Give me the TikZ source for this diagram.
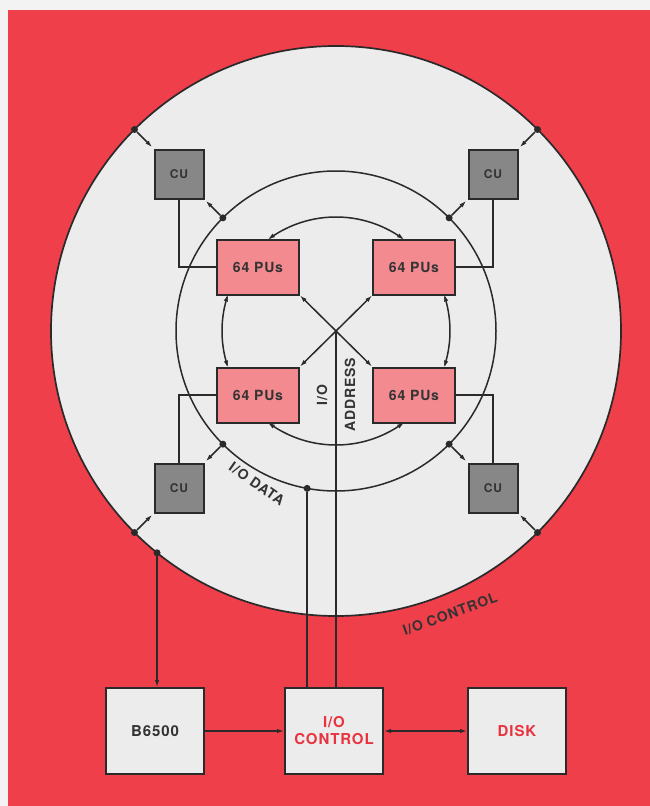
\documentclass[tikz,border=0pt]{standalone}
\usepackage{fontspec}
\setmainfont{TeX Gyre Heros}
\newfontfamily\lbl[LetterSpace=6]{TeX Gyre Heros}
\usetikzlibrary{arrows.meta,calc}
\definecolor{bgred}{HTML}{EF3F4B}
\definecolor{light}{HTML}{ECECEC}
\definecolor{pufill}{HTML}{F28A90}
\definecolor{cufill}{HTML}{878787}
\definecolor{lineclr}{HTML}{2A2A2A}
\definecolor{txtdark}{HTML}{333333}
\definecolor{txtred}{HTML}{E8323E}
\definecolor{paper}{HTML}{F3F3F3}
\begin{document}
\begin{tikzpicture}[x=1pt,y=-1pt,
  >={Latex[length=7pt,width=4.5pt]},
  lw/.style={line width=1.5pt, draw=lineclr},
  pubox/.style={draw=lineclr, line width=2pt, fill=pufill, minimum width=82pt, minimum height=55pt,
     inner sep=0pt, text=txtdark, font=\lbl\bfseries\fontsize{14}{16}\selectfont},
  cubox/.style={draw=lineclr, line width=2pt, fill=cufill, minimum size=49pt,
     inner sep=0pt, text=txtdark, font=\lbl\bfseries\fontsize{12}{14}\selectfont},
  iobox/.style={draw=lineclr, line width=2pt, fill=light, minimum width=98pt, minimum height=86pt,
     inner sep=0pt, align=center, font=\lbl\bfseries\fontsize{15}{17}\selectfont},
  dot/.style={circle, fill=lineclr, inner sep=0pt, minimum size=7pt},
  lbltext/.style={inner sep=1pt, text=txtdark, font=\lbl\bfseries\fontsize{14}{16}\selectfont}
]
\useasboundingbox (0,0) rectangle (650,806);
\fill[paper] (0,0) rectangle (650,806);
\fill[bgred] (8,10) rectangle (650,806);

\coordinate (C) at (336,331);
% big circle and middle circle
\draw[line width=1.7pt, draw=lineclr, fill=light] (C) circle[radius=285];
\draw[lw] (C) circle[radius=160];

% inner ring arcs between PU boxes
\draw[lw,<->] plot[domain=-126.6:-53.4, samples=60] ({336+114*cos(\x)},{331+114*sin(\x)});
\draw[lw,<->] plot[domain=-18.7:18.7, samples=30] ({336+114*cos(\x)},{331+114*sin(\x)});
\draw[lw,<->] plot[domain=53.4:126.6, samples=60] ({336+114*cos(\x)},{331+114*sin(\x)});
\draw[lw,<->] plot[domain=161.3:198.7, samples=30] ({336+114*cos(\x)},{331+114*sin(\x)});

% PU boxes
\node[pubox] (ptl) at (258,267) {64 PUs};
\node[pubox] (ptr) at (414,267) {64 PUs};
\node[pubox] (pbl) at (258,395) {64 PUs};
\node[pubox] (pbr) at (414,395) {64 PUs};

% CU boxes
\node[cubox] (cutl) at ($(C)+(-157,-157)$) {CU};
\node[cubox] (cutr) at ($(C)+(157,-157)$) {CU};
\node[cubox] (cubl) at ($(C)+(-157,157)$) {CU};
\node[cubox] (cubr) at ($(C)+(157,157)$) {CU};

% dots on the rings
\node[dot] (otl) at ($(C)+(-135:285)$) {};
\node[dot] (otr) at ($(C)+(-45:285)$) {};
\node[dot] (obl) at ($(C)+(135:285)$) {};
\node[dot] (obr) at ($(C)+(45:285)$) {};
\node[dot] (itl) at ($(C)+(-135:160)$) {};
\node[dot] (itr) at ($(C)+(-45:160)$) {};
\node[dot] (ibl) at ($(C)+(135:160)$) {};
\node[dot] (ibr) at ($(C)+(45:160)$) {};
\node[dot] (dd) at ($(C)+(100.4:160)$) {};
\node[dot] (db) at ($(C)+(128.9:285)$) {};

% CU to ring connectors
\draw[lw,->,shorten >=2pt] (otl) -- (cutl.north west);
\draw[lw,->,shorten >=2pt] (itl) -- (cutl.south east);
\draw[lw,->,shorten >=2pt] (otr) -- (cutr.north east);
\draw[lw,->,shorten >=2pt] (itr) -- (cutr.south west);
\draw[lw,->,shorten >=2pt] (obl) -- (cubl.south west);
\draw[lw,->,shorten >=2pt] (ibl) -- (cubl.north east);
\draw[lw,->,shorten >=2pt] (obr) -- (cubr.south east);
\draw[lw,->,shorten >=2pt] (ibr) -- (cubr.north west);

% CU to PU connectors
\draw[lw] (cutl.south) |- (ptl.west);
\draw[lw] (cutr.south) |- (ptr.east);
\draw[lw] (pbl.west) -| (cubl.north);
\draw[lw] (pbr.east) -| (cubr.north);

% diagonal cross
\draw[lw,<->] (ptl.south east) -- (pbr.north west);
\draw[lw,<->] (ptr.south west) -- (pbl.north east);
\coordinate (X) at (intersection of ptl.south east--pbr.north west and ptr.south west--pbl.north east);

% bottom boxes
\node[iobox, text=txtdark] (b65) at (155,731) {B6500};
\node[iobox, text=txtred] (ioc) at (334,731) {I/O\\CONTROL};
\node[iobox, text=txtred] (disk) at (517,731) {DISK};

% buses down to I/O control
\draw[lw] (X) -- (X |- ioc.north);
\draw[lw] (dd) -- (dd |- ioc.north);
\draw[lw,->] (db) -- (db |- b65.north);
\draw[lw,->] (b65.east) -- (ioc.west);
\draw[lw,<->] (ioc.east) -- (disk.west);

% labels
\node[lbltext, rotate=90] (la1) at (322,395) {I/O};
\node[lbltext, rotate=90] (la2) at (350,395) {ADDRESS};
\node[lbltext, rotate=-35] (ld) at (257,484) {I/O DATA};
\node[lbltext, rotate=20] (lc) at (450,614) {I/O CONTROL};
\end{tikzpicture}
\end{document}
